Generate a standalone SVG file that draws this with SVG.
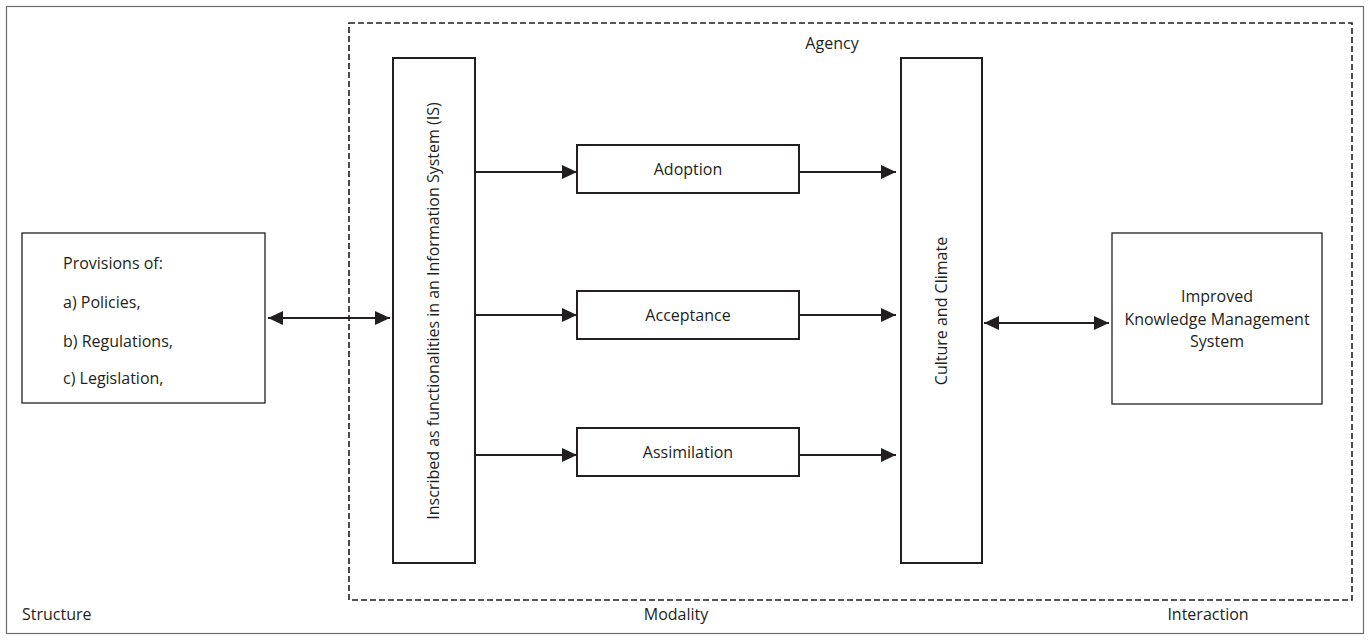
<svg xmlns="http://www.w3.org/2000/svg" width="1371" height="640" viewBox="0 0 1371 640">
<defs>
<style>
.t{font-family:"Open Sans","Noto Sans",sans-serif;font-size:16px;fill:#231f20}
.c{text-anchor:middle}
.box{fill:#fff;stroke:#231f20;stroke-width:2}
.thin{fill:#fff;stroke:#231f20;stroke-width:1.3}
.ln{stroke:#231f20;stroke-width:2;fill:none}
</style>
<marker id="ah" viewBox="0 0 15 14" refX="15" refY="7" markerWidth="15" markerHeight="14" markerUnits="userSpaceOnUse" orient="auto-start-reverse">
<path d="M0,0 L15,7 L0,14 Z" fill="#231f20"/>
</marker>
</defs>
<rect width="1371" height="640" fill="#fff"/>
<rect x="6.5" y="6.5" width="1357" height="627" fill="none" stroke="#6d6d6d" stroke-width="1.2"/>
<rect id="agency-frame" x="349" y="23" width="1003" height="577" fill="none" stroke="#231f20" stroke-width="1.6" stroke-dasharray="6,3"/>
<text class="t c" x="832" y="49">Agency</text>
<text class="t" x="22" y="620">Structure</text>
<text class="t c" x="676" y="620">Modality</text>
<text class="t c" x="1208" y="620">Interaction</text>
<g id="provisions">
<rect class="thin" x="22" y="233" width="243" height="170"/>
<text class="t" x="63" y="269">Provisions of:</text>
<text class="t" x="63" y="308">a) Policies,</text>
<text class="t" x="63" y="347">b) Regulations,</text>
<text class="t" x="63" y="384">c) Legislation,</text>
</g>
<g id="is">
<rect class="box" x="393" y="58" width="82" height="505"/>
<text class="t c" transform="translate(439,311) rotate(-90)">Inscribed as functionalities in an Information System (IS)</text>
</g>
<g id="adoption">
<rect class="box" x="577" y="145" width="222" height="48"/>
<text class="t c" x="688" y="175">Adoption</text>
</g>
<g id="acceptance">
<rect class="box" x="577" y="291" width="222" height="48"/>
<text class="t c" x="688" y="321">Acceptance</text>
</g>
<g id="assimilation">
<rect class="box" x="577" y="428" width="222" height="48"/>
<text class="t c" x="688" y="458">Assimilation</text>
</g>
<g id="culture">
<rect class="box" x="901" y="58" width="81" height="505"/>
<text class="t c" transform="translate(947,311) rotate(-90)">Culture and Climate</text>
</g>
<g id="kms">
<rect class="thin" x="1112" y="233" width="210" height="171"/>
<text class="t c" x="1217" y="302">Improved</text>
<text class="t c" x="1217" y="325">Knowledge Management</text>
<text class="t c" x="1217" y="347">System</text>
</g>
<g id="connectors">
<line class="ln" x1="268" y1="318" x2="390" y2="318" marker-start="url(#ah)" marker-end="url(#ah)"/>
<line class="ln" x1="476" y1="172" x2="577" y2="172" marker-end="url(#ah)"/>
<line class="ln" x1="476" y1="315" x2="577" y2="315" marker-end="url(#ah)"/>
<line class="ln" x1="476" y1="455" x2="577" y2="455" marker-end="url(#ah)"/>
<line class="ln" x1="800" y1="172" x2="896" y2="172" marker-end="url(#ah)"/>
<line class="ln" x1="800" y1="315" x2="896" y2="315" marker-end="url(#ah)"/>
<line class="ln" x1="800" y1="455" x2="896" y2="455" marker-end="url(#ah)"/>
<line class="ln" x1="984" y1="323" x2="1109" y2="323" marker-start="url(#ah)" marker-end="url(#ah)"/>
</g>
</svg>
